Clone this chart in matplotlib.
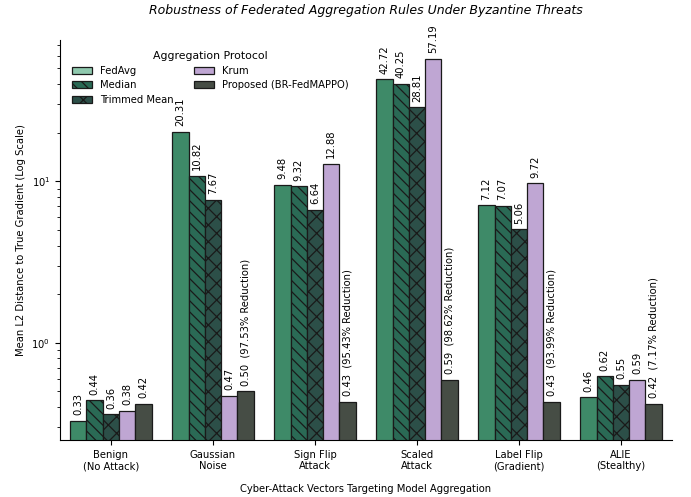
import numpy as np
import matplotlib.pyplot as plt

attacks = ["Benign\n(No Attack)", "Gaussian\nNoise", "Sign Flip\nAttack",
           "Scaled\nAttack", "Label Flip\n(Gradient)", "ALIE\n(Stealthy)"]
methods = ["FedAvg", "Median", "Trimmed Mean", "Krum", "Proposed (BR-FedMAPPO)"]

fedavg = [0.33, 20.31, 9.48, 42.72, 7.12, 0.46]
median = [0.44, 10.82, 9.32, 40.25, 7.07, 0.62]
trimmed = [0.36, 7.67, 6.64, 28.81, 5.06, 0.55]
krum = [0.38, 0.47, 12.88, 57.19, 9.72, 0.59]
proposed = [0.42, 0.50, 0.43, 0.59, 0.43, 0.42]
reduction = [None, 97.53, 95.43, 98.62, 93.99, 7.17]

series = [fedavg, median, trimmed, krum, proposed]
colors = ["#3e8a68", "#2a6a55", "#2c4f48", "#bfa6d3", "#464d45"]
hatches = [None, "\\\\\\", "xx", None, None]

fs = 7.2
plt.rcParams["hatch.linewidth"] = 0.9
fig = plt.figure(figsize=(6.91, 4.97), dpi=100)
ax = fig.add_axes([0.0868, 0.1147, 0.8857, 0.8048])

x = np.arange(len(attacks))
w = 0.16
for i, (vals, name) in enumerate(zip(series, methods)):
    pos = x + (i - 2) * w
    bars = ax.bar(pos, vals, w, color=colors[i], edgecolor="#1a1a1a",
                  linewidth=0.9, hatch=hatches[i], label=name)
    for j, (b, v) in enumerate(zip(bars, vals)):
        txt = f"{v:.2f}"
        if i == 4 and reduction[j] is not None:
            txt += f"  ({reduction[j]:.2f}% Reduction)"
        ax.annotate(txt, (b.get_x() + b.get_width() / 2, v),
                    xytext=(0, 4), textcoords="offset points",
                    rotation=90, ha="center", va="bottom", fontsize=fs)

ax.set_yscale("log")
ax.set_ylim(0.25, 75)
ax.set_xlim(-0.5, 5.5)
ax.set_xticks(x)
ax.set_xticklabels(attacks, fontsize=fs)
ax.tick_params(axis="y", labelsize=fs)
ax.spines["top"].set_visible(False)
ax.spines["right"].set_visible(False)

ax.set_xlabel("Cyber-Attack Vectors Targeting Model Aggregation", fontsize=fs, labelpad=9)
ax.set_ylabel("Mean L2 Distance to True Gradient (Log Scale)", fontsize=fs)
fig.suptitle("Robustness of Federated Aggregation Rules Under Byzantine Threats",
             fontsize=9, style="italic", x=0.5298, y=0.978, va="center")

leg = ax.legend(title="Aggregation Protocol", ncol=2, frameon=False,
                loc="upper left", bbox_to_anchor=(0.005, 0.995), fontsize=fs,
                title_fontsize=7.8, handlelength=2.0, columnspacing=2.0,
                borderaxespad=0.5, labelspacing=0.45)
leg.legend_handles[0].set_facecolor("#8fc9ae")

fig.savefig("out.png", dpi=100)
